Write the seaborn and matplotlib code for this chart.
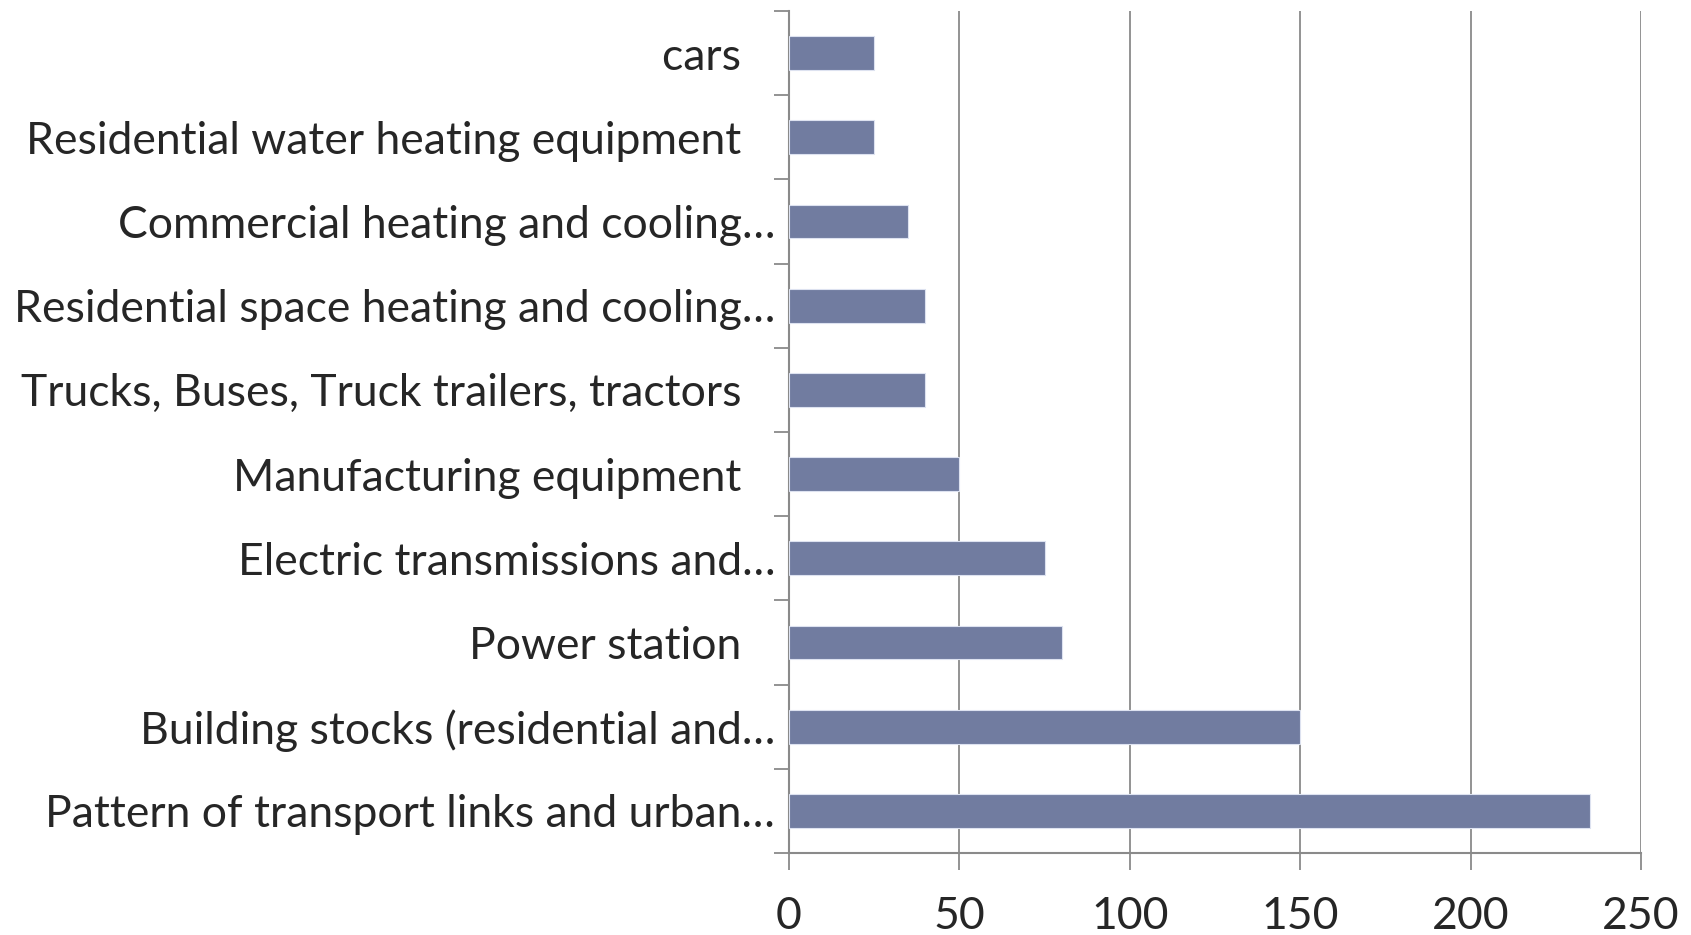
import matplotlib
matplotlib.use("Agg")
import matplotlib.pyplot as plt
import numpy as np
import pandas as pd
import seaborn as sns

categorias = [
    "cars   ",
    "Residential water heating equipment   ",
    "Commercial heating and cooling…",
    "Residential space heating and cooling…",
    "Trucks, Buses, Truck trailers, tractors   ",
    "Manufacturing equipment   ",
    "Electric transmissions and…",
    "Power station   ",
    "Building stocks (residential and…",
    "Pattern of transport links and urban…",
]
valores = [25, 25, 35, 40, 40, 50, 75, 80, 150, 235]
xticks = [0, 50, 100, 150, 200, 250]

df = pd.DataFrame({"categoria": categorias, "valor": valores})

sns.set_style("white")
plt.rcParams["font.family"] = ["Lato", "DejaVu Sans"]

fig = plt.figure(figsize=(16.91, 9.35), dpi=100)
ax = fig.add_axes([0.4666, 0.0877, 0.5038, 0.9005])

sns.barplot(data=df, y="categoria", x="valor", order=categorias, orient="h",
            color="#717CA0", saturation=1, width=0.4,
            edgecolor="#dde2f0", linewidth=0.8, ax=ax, zorder=3)

gris = "#8a8a8a"
ax.set_xlim(0, 250)
ax.set_ylim(len(categorias) - 0.5, -0.5)
ax.set_xticks(xticks)
ax.set_xticklabels([str(t) for t in xticks])
ax.xaxis.grid(True, color=gris, linewidth=1.3, zorder=0)
ax.set_axisbelow(True)

for s in ["top", "right"]:
    ax.spines[s].set_visible(False)
for s in ["left", "bottom"]:
    ax.spines[s].set_color(gris)
    ax.spines[s].set_linewidth(1.5)

# marcas entre categorías, como en Excel
ax.set_yticks(np.arange(-0.5, len(categorias), 1.0), minor=True)
ax.tick_params(axis="y", which="both", left=True)
ax.tick_params(axis="x", which="both", bottom=True)
ax.tick_params(axis="y", which="major", length=0, pad=10, labelsize=32)
ax.tick_params(axis="y", which="minor", length=11, width=1.3, color=gris,
               direction="out")
ax.tick_params(axis="x", which="major", length=12, width=1.3, color=gris,
               direction="out", pad=19, labelsize=32)
ax.set_xlabel("")
ax.set_ylabel("")

plt.savefig("out.png", dpi=100)
